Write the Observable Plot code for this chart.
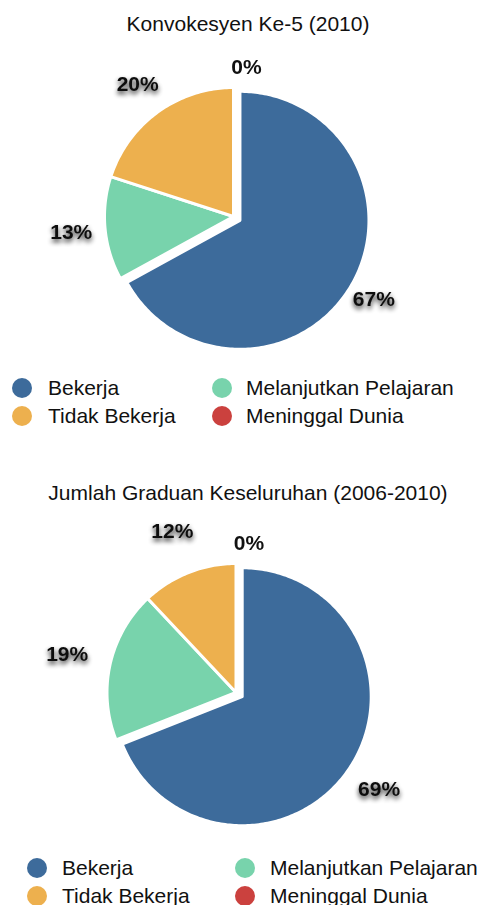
<!DOCTYPE html>
<html>
<head>
<meta charset="utf-8">
<script src="https://cdn.jsdelivr.net/npm/d3@7"></script>
<script src="https://cdn.jsdelivr.net/npm/@observablehq/plot@0.6"></script>
<style>
  html, body { margin: 0; padding: 0; background: #fff; }
  #page { position: relative; width: 483px; height: 905px; overflow: hidden;
          font-family: "Liberation Sans", Arial, Helvetica, sans-serif; color: #111; }
  .title { position: absolute; left: 0; width: 496px; text-align: center; font-size: 21px; line-height: 21px; white-space: nowrap; }
  .pie { position: absolute; left: 0; }
  .sw { position: absolute; width: 20px; height: 20px; border-radius: 50%; }
  .lt { position: absolute; font-size: 21px; line-height: 21px; white-space: nowrap; }
</style>
</head>
<body>
<div id="page"></div>
<script>
// ---- data ----
const categories = ["Bekerja", "Melanjutkan Pelajaran", "Tidak Bekerja", "Meninggal Dunia"];
const colors = ["#3d6b9b", "#78d3ac", "#edb04e", "#cb413e"];
const values2010 = [67, 13, 20, 0];
const valuesAll = [69, 19, 12, 0];
const titles = ["Konvokesyen Ke-5 (2010)", "Jumlah Graduan Keseluruhan (2006-2010)"];
const legendOrder = ["Bekerja", "Tidak Bekerja", "Melanjutkan Pelajaran", "Meninggal Dunia"];
const explodedCategory = "Bekerja";

// ---- layout ----
const W = 483;
const R = 129;
const layouts = [
  { titleBaseline: 31, svgTop: 40, svgH: 320, cx: 233, cy: 216, labelR: 163,
    legBase: [395, 423], circX: [22, 222], textX: [48, 246] },
  { titleBaseline: 500, svgTop: 510, svgH: 340, cx: 235.5, cy: 692, labelR: 173,
    legBase: [875, 903], circX: [37, 245], textX: [62, 270] }
];
const explode = 7.5;
const zeroR = 149, zeroDx = 13;

const page = document.getElementById("page");
const colorOf = c => colors[categories.indexOf(c)];

function drawChart(values, title, L, idx) {
  // title
  const t = document.createElement("div");
  t.className = "title";
  t.style.top = (L.titleBaseline - 17.8) + "px";
  t.textContent = title;
  page.appendChild(t);

  // pie geometry from data
  const arcs = d3.pie().sort(null).value(d => d)(values);
  const pts = [];
  const labs = [];
  arcs.forEach((a, i) => {
    const cat = categories[i];
    const mid = (a.startAngle + a.endAngle) / 2;
    if (a.value > 0) {
      const off = cat === explodedCategory ? explode : 0;
      const ox = off * Math.sin(mid), oy = -off * Math.cos(mid);
      pts.push({ cat, x: ox, y: oy });
      const n = Math.max(2, Math.ceil((a.endAngle - a.startAngle) / (Math.PI / 180)));
      for (let k = 0; k <= n; k++) {
        const ang = a.startAngle + (a.endAngle - a.startAngle) * k / n;
        pts.push({ cat, x: ox + R * Math.sin(ang), y: oy - R * Math.cos(ang) });
      }
      labs.push({ x: L.labelR * Math.sin(mid), y: -L.labelR * Math.cos(mid), label: a.value + "%", zero: false });
    } else {
      labs.push({ x: zeroR * Math.sin(mid) + zeroDx, y: -zeroR * Math.cos(mid), label: a.value + "%", zero: true });
    }
  });

  const localCy = L.cy - L.svgTop;
  const svg = Plot.plot({
    width: W,
    height: L.svgH,
    margin: 0,
    x: { domain: [-L.cx, W - L.cx], axis: null },
    y: { domain: [-localCy, L.svgH - localCy], axis: null, reverse: true },
    color: { domain: categories, range: colors },
    style: { background: "transparent", overflow: "visible" },
    marks: [
      Plot.line(pts, { x: "x", y: "y", z: "cat", fill: "cat", stroke: "white", strokeWidth: 3, curve: "linear-closed" }),
      Plot.text(labs.filter(d => !d.zero), { x: "x", y: "y", text: "label", fontSize: 21, fontWeight: "bold", fill: "#111",
        fontFamily: "Liberation Sans, Arial, Helvetica, sans-serif" }),
      Plot.text(labs.filter(d => d.zero), { x: "x", y: "y", text: "label", fontSize: 21, fontWeight: "bold", fill: "#111",
        fontFamily: "Liberation Sans, Arial, Helvetica, sans-serif" })
    ]
  });
  svg.classList.add("pie");
  svg.style.top = L.svgTop + "px";

  // text shadow filter for labels
  const ns = "http://www.w3.org/2000/svg";
  const defs = document.createElementNS(ns, "defs");
  const fid = "tshadow" + idx;
  defs.innerHTML = `<filter id="${fid}" x="-30%" y="-60%" width="160%" height="220%">
      <feGaussianBlur in="SourceAlpha" stdDeviation="2.4"/>
      <feOffset dx="0" dy="3" result="b"/>
      <feComponentTransfer in="b" result="c"><feFuncA type="linear" slope="0.85"/></feComponentTransfer>
      <feMerge><feMergeNode in="c"/><feMergeNode in="SourceGraphic"/></feMerge>
    </filter>`;
  svg.insertBefore(defs, svg.firstChild);
  const textGroups = svg.querySelectorAll('g[aria-label="text"]');
  if (textGroups[0]) textGroups[0].setAttribute("filter", `url(#${fid})`);
  page.appendChild(svg);

  // legend
  legendOrder.forEach((cat, i) => {
    const col = Math.floor(i / 2), row = i % 2;
    const base = L.legBase[row];
    const sw = document.createElement("span");
    sw.className = "sw";
    sw.style.background = colorOf(cat);
    sw.style.left = (L.circX[col] - 10) + "px";
    sw.style.top = (base - 7.5 - 10) + "px";
    page.appendChild(sw);
    const lt = document.createElement("span");
    lt.className = "lt";
    lt.style.left = L.textX[col] + "px";
    lt.style.top = (base - 17.8) + "px";
    lt.textContent = cat;
    page.appendChild(lt);
  });
}

drawChart(values2010, titles[0], layouts[0], 0);
drawChart(valuesAll, titles[1], layouts[1], 1);
</script>
</body>
</html>
